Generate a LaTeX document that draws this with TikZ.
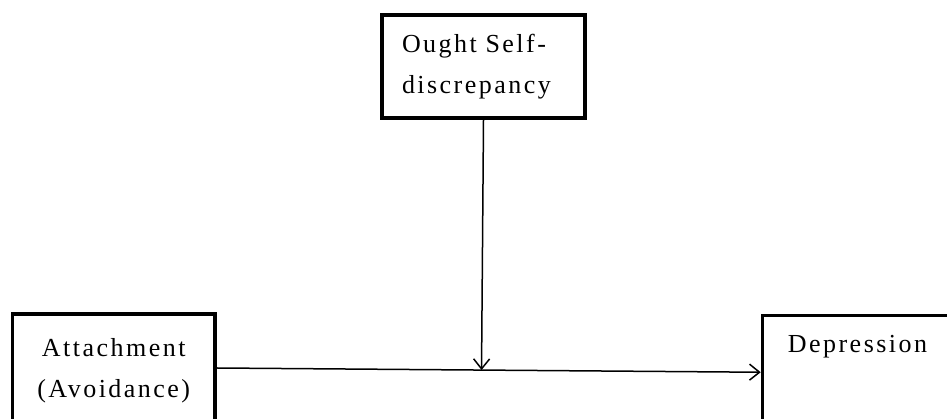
\documentclass[tikz,border=0pt]{standalone}
\usepackage{fontspec}
\setmainfont{Liberation Serif}
\newfontfamily\boxfont[LetterSpace=9.5]{Liberation Serif}
\usetikzlibrary{calc,arrows.meta}
\tikzset{
	box/.style={draw, line width=3.6pt, inner sep=0pt, font=\boxfont\fontsize{26}{41}\selectfont},
	link/.style={line width=1.5pt, -{Straight Barb[length=10pt,width=16pt,line width=1.5pt]}}
}

\begin{document}
\begin{tikzpicture}[x=1pt, y=1pt]
			%%%%% START %%%%%
			
			\useasboundingbox (0,0) rectangle (947,419);
			\clip (0,0) rectangle (947,419);
			
			\node[box, minimum width=203pt, minimum height=103pt, text width=163pt, align=left] (self) at (483.5,352.5) {Ought Self-\\discrepancy};
			
			\node[box, minimum width=202.5pt, minimum height=113.5pt, align=center] (att) at (113.75,48.25) {Attachment\\(Avoidance)};
			\node[box, minimum width=190pt, minimum height=113.5pt, text height=18pt, text depth=56.5pt] (dep) at (857.5,46.75) {Depression};
			
			\coordinate (src) at ([yshift=2.75pt]att.east);
			\draw[link] (src) -- (dep.west);
			
			\coordinate (meet) at ($(src)!(self.south)!(dep.west)$);
			\draw[link] (self.south) -- (meet);
			
			%%%%% END %%%%%
\end{tikzpicture}
\end{document}
